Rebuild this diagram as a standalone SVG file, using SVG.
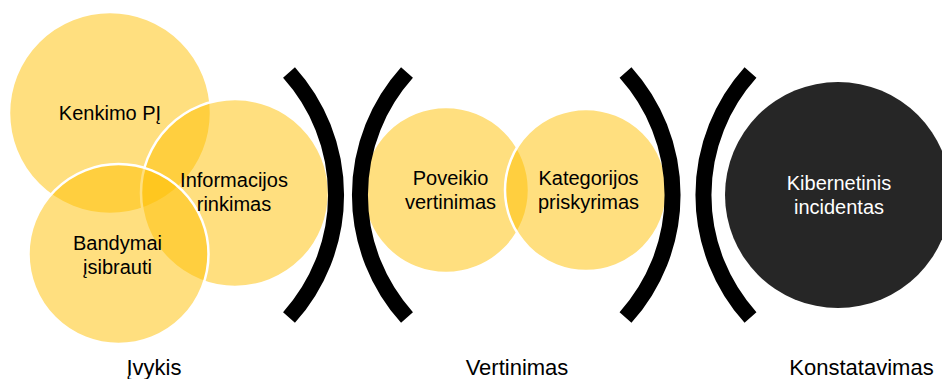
<svg xmlns="http://www.w3.org/2000/svg" width="942" height="379" viewBox="0 0 942 379">
  <style>
    .gold { fill: #FFC000; fill-opacity: 0.5; stroke: #FFFFFF; stroke-width: 2.5; }
    .dark { fill: #262626; }
    .br { fill: none; stroke: #000000; stroke-width: 16; stroke-linecap: butt; }
    .t { font-family: "Liberation Sans", Arial, sans-serif; font-size: 20px; fill: #000000; text-anchor: middle; }
    .tw { font-family: "Liberation Sans", Arial, sans-serif; font-size: 20px; fill: #FFFFFF; text-anchor: middle; }
    .lbl { font-family: "Liberation Sans", Arial, sans-serif; font-size: 22px; fill: #000000; text-anchor: middle; }
  </style>
  <rect width="942" height="379" fill="#FFFFFF"/>

  <g id="kenkimo">
    <circle class="gold" cx="110" cy="113" r="101"/>
  </g>
  <g id="informacijos">
    <circle class="gold" cx="235" cy="193" r="94"/>
  </g>
  <g id="bandymai">
    <circle class="gold" cx="118.5" cy="254" r="90"/>
  </g>
  <g id="labels-ivykis">
    <text class="t" x="110" y="120">Kenkimo PĮ</text>
    <text class="t" x="234" y="187">Informacijos</text>
    <text class="t" x="234" y="211">rinkimas</text>
    <text class="t" x="117.5" y="250">Bandymai</text>
    <text class="t" x="117.5" y="274">įsibrauti</text>
  </g>

  <g id="poveikio">
    <circle class="gold" cx="446" cy="190" r="83"/>
    <text class="t" x="450.5" y="185">Poveikio</text>
    <text class="t" x="450.5" y="209">vertinimas</text>
  </g>
  <g id="kategorijos">
    <circle class="gold" cx="586" cy="190" r="81"/>
    <text class="t" x="588.5" y="185">Kategorijos</text>
    <text class="t" x="588.5" y="209">priskyrimas</text>
  </g>

  <g id="kibernetinis">
    <circle class="dark" cx="838" cy="195" r="113"/>
    <text class="tw" x="839" y="190">Kibernetinis</text>
    <text class="tw" x="839" y="214">incidentas</text>
  </g>

  <g id="brackets">
    <path class="br" d="M289,72.5 A183,183 0 0 1 289,317.5"/>
    <path class="br" d="M407,72.5 A183,183 0 0 0 407,317.5"/>
    <path class="br" d="M625.5,72.5 A183,183 0 0 1 625.5,317.5"/>
    <path class="br" d="M750.5,72.5 A183,183 0 0 0 750.5,317.5"/>
  </g>

  <g id="stage-labels">
    <text class="lbl" x="154" y="375">Įvykis</text>
    <text class="lbl" x="517" y="375">Vertinimas</text>
    <text class="lbl" x="861.5" y="375">Konstatavimas</text>
  </g>
</svg>
